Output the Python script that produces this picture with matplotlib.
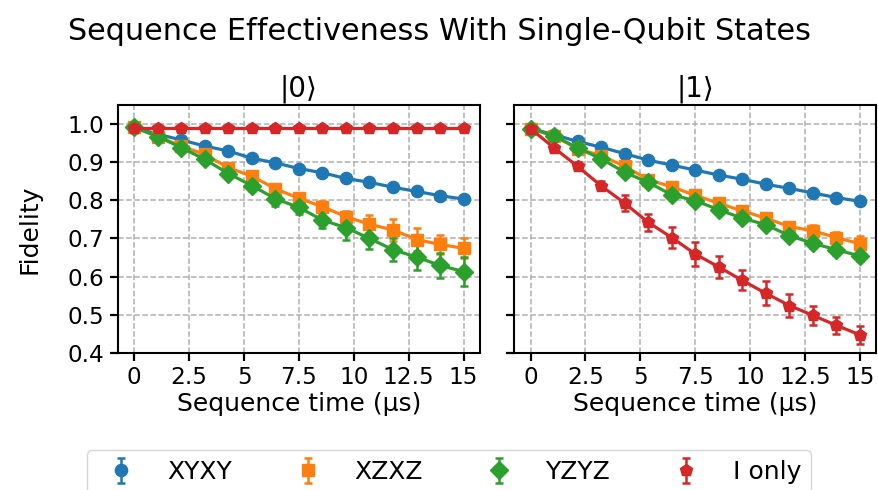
import numpy as np
import matplotlib
matplotlib.use("Agg")
import matplotlib.pyplot as plt
from matplotlib.lines import Line2D
from matplotlib.legend_handler import HandlerErrorbar

# sequence time in us, 15 points from 0 to 15
t = [0, 1.07, 2.14, 3.21, 4.29, 5.36, 6.43, 7.5, 8.57, 9.64, 10.71, 11.79, 12.86, 13.93, 15]

labels = ["XYXY", "XZXZ", "YZYZ", "I only"]
colors = ["#1f77b4", "#ff7f0e", "#2ca02c", "#d62728"]
markers = ["o", "s", "D", "p"]

# |0> state
xyxy_0 = [0.991, 0.973, 0.958, 0.942, 0.929, 0.910, 0.898, 0.883, 0.872, 0.857, 0.847, 0.834, 0.823, 0.812, 0.803]
xzxz_0 = [0.991, 0.967, 0.942, 0.920, 0.885, 0.863, 0.830, 0.805, 0.783, 0.757, 0.737, 0.722, 0.697, 0.684, 0.674]
yzyz_0 = [0.991, 0.967, 0.938, 0.907, 0.870, 0.838, 0.804, 0.781, 0.748, 0.728, 0.700, 0.670, 0.651, 0.629, 0.613]
ionly_0 = [0.990] * 15
xyxy_0_err = [0.002, 0.003, 0.003, 0.004, 0.004, 0.004, 0.005, 0.005, 0.005, 0.006, 0.006, 0.006, 0.007, 0.007, 0.007]
xzxz_0_err = [0.002, 0.005, 0.006, 0.008, 0.010, 0.011, 0.012, 0.014, 0.015, 0.016, 0.023, 0.030, 0.031, 0.026, 0.026]
yzyz_0_err = [0.002, 0.006, 0.008, 0.010, 0.012, 0.014, 0.020, 0.018, 0.020, 0.033, 0.028, 0.030, 0.034, 0.032, 0.037]
ionly_0_err = [0.002] * 15

# |1> state
xyxy_1 = [0.988, 0.972, 0.954, 0.939, 0.922, 0.905, 0.892, 0.879, 0.866, 0.855, 0.842, 0.831, 0.819, 0.807, 0.797]
xzxz_1 = [0.988, 0.968, 0.935, 0.917, 0.889, 0.854, 0.835, 0.813, 0.792, 0.772, 0.753, 0.731, 0.720, 0.702, 0.686]
yzyz_1 = [0.988, 0.969, 0.937, 0.909, 0.873, 0.847, 0.814, 0.799, 0.775, 0.753, 0.736, 0.707, 0.687, 0.670, 0.654]
ionly_1 = [0.988, 0.937, 0.889, 0.838, 0.792, 0.742, 0.702, 0.659, 0.625, 0.590, 0.556, 0.524, 0.498, 0.472, 0.447]
xyxy_1_err = [0.002, 0.003, 0.003, 0.003, 0.004, 0.004, 0.004, 0.005, 0.005, 0.005, 0.005, 0.006, 0.006, 0.006, 0.006]
xzxz_1_err = [0.002, 0.004, 0.005, 0.006, 0.007, 0.008, 0.009, 0.010, 0.010, 0.011, 0.012, 0.013, 0.014, 0.014, 0.020]
yzyz_1_err = [0.002, 0.004, 0.005, 0.006, 0.007, 0.008, 0.008, 0.009, 0.010, 0.010, 0.011, 0.012, 0.012, 0.013, 0.014]
ionly_1_err = [0.003, 0.008, 0.010, 0.012, 0.021, 0.022, 0.028, 0.031, 0.030, 0.026, 0.031, 0.031, 0.026, 0.022, 0.023]

panels = [
    ("|0⟩", [xyxy_0, xzxz_0, yzyz_0, ionly_0], [xyxy_0_err, xzxz_0_err, yzyz_0_err, ionly_0_err]),
    ("|1⟩", [xyxy_1, xzxz_1, yzyz_1, ionly_1], [xyxy_1_err, xzxz_1_err, yzyz_1_err, ionly_1_err]),
]


# legend handle: marker + error bar, no connecting line
class HandlerNoLine(HandlerErrorbar):
    def create_artists(self, *args, **kwargs):
        arts = super().create_artists(*args, **kwargs)
        for a in arts:
            if isinstance(a, Line2D) and str(a.get_marker()).lower() in ("none", ""):
                a.set_visible(False)
        return arts


plt.rcParams["font.size"] = 16.7

fig, axes = plt.subplots(1, 2, figsize=(8.79, 4.9), dpi=100, sharey=True)
fig.subplots_adjust(left=0.134, right=0.997, top=0.786, bottom=0.280, wspace=0.094)

for ax, (title, ys, errs) in zip(axes, panels):
    for y, e, c, m, lab in zip(ys, errs, colors, markers, labels):
        ax.errorbar(t, y, yerr=e, color=c, marker=m, markersize=8.8, lw=2.3,
                    elinewidth=1.8, capsize=3, capthick=1.8, label=lab)
    ax.set_title(title, fontsize=20, pad=6)
    ax.set_xlabel("Sequence time (µs)", fontsize=18, labelpad=2)
    ax.set_xticks([0, 2.5, 5, 7.5, 10, 12.5, 15])
    ax.set_xticklabels(["0", "2.5", "5", "7.5", "10", "12.5", "15"])
    ax.grid(True, ls="--", color="#b0b0b0", lw=1.1)
    ax.set_axisbelow(True)
    ax.tick_params(length=6, width=1.6)
    for s in ax.spines.values():
        s.set_linewidth(1.5)

axes[0].set_ylim(0.4, 1.05)
axes[0].set_yticks([0.4, 0.5, 0.6, 0.7, 0.8, 0.9, 1.0])
axes[0].set_ylabel("Fidelity", fontsize=18, labelpad=19)

fig.suptitle("Sequence Effectiveness With Single-Qubit States", fontsize=21.8, y=0.965)

handles, labs = axes[0].get_legend_handles_labels()
fig.legend(handles, labs, loc="upper center", bbox_to_anchor=(0.511, 1 - 450 / 490),
           ncol=4, fontsize=18, handlelength=1.9, handletextpad=0.9,
           columnspacing=2.1, borderaxespad=0, frameon=True,
           handler_map={type(handles[0]): HandlerNoLine()},
           bbox_transform=fig.transFigure)

fig.savefig("out.png", dpi=100)
